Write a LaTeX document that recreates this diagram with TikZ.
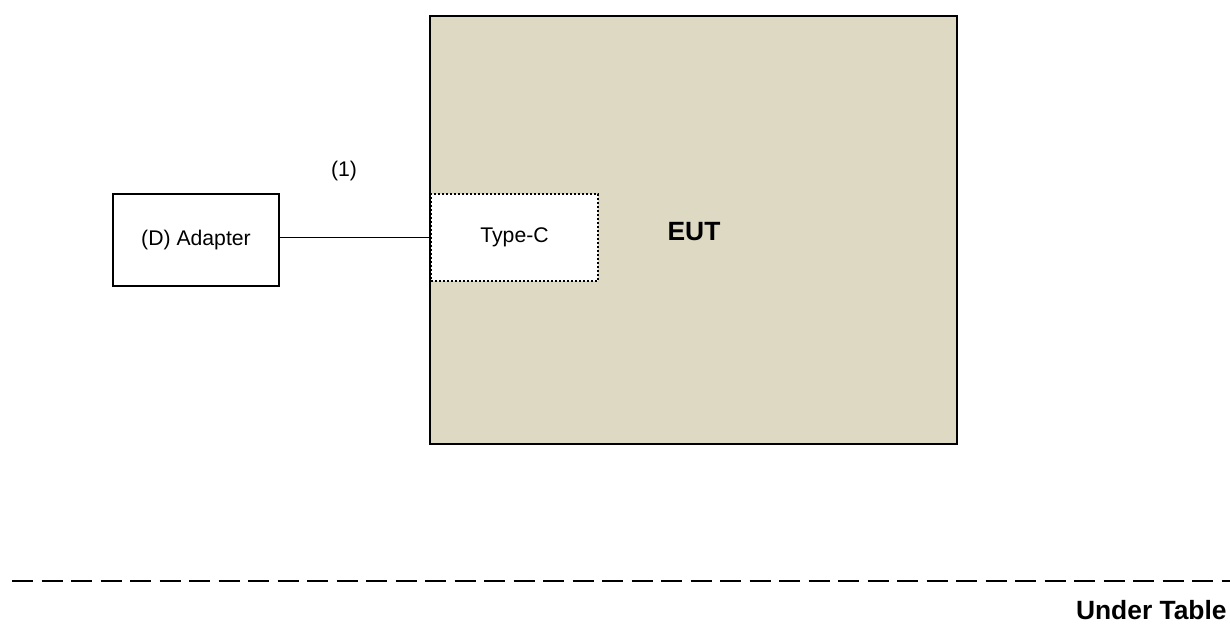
\documentclass[tikz,border=0pt]{standalone}
\usepackage{fontspec}
\setmainfont{Liberation Sans}
\usepackage{xcolor}
\usepackage{tikz}
\usetikzlibrary{calc,positioning}
\definecolor{eutfill}{HTML}{DDD9C3}
\definecolor{ink}{HTML}{000000}
\tikzset{
  eutbox/.style={draw=ink, fill=eutfill, line width=1pt, minimum width=263.5pt, minimum height=214pt, inner sep=0pt},
  portbox/.style={draw=ink, fill=white, line width=1pt, dash pattern=on 1pt off 1pt, minimum width=83.5pt, minimum height=43.5pt, inner sep=0pt},
  devbox/.style={draw=ink, line width=0.75pt, minimum width=83pt, minimum height=46pt, inner sep=0pt},
  cable/.style={draw=ink, line width=0.7pt},
  sep/.style={draw=ink, line width=1pt, dash pattern=on 10.5pt off 4.25pt},
  lab/.style={text=ink, font=\fontsize{10.6}{12}\selectfont},
  labb/.style={text=ink, font=\fontsize{13.2}{15}\selectfont\bfseries},
}
\begin{document}
\begin{tikzpicture}[x=0.5pt, y=-0.5pt]
\useasboundingbox (0,0) rectangle (1230,626);
\node[eutbox, labb] (eut) at (693.5,230) {};
\node[labb] (eutlab) at (694,232) {EUT};
\node[portbox, lab] (typec) at (514.5,237.5) {Type-C};
\node[devbox, lab] (adapter) at (196,240) {(D) Adapter};
\draw[cable] (adapter.east |- typec.west) -- (typec.west);
\node[lab] (cablelab) at (344,171) {(1)};
% table line
\coordinate (sepL) at (12,581);
\coordinate (sepR) at (1230,581);
\draw[sep] (sepL) -- (sepR);
\node[labb, anchor=east, inner sep=0pt] (table) at (1227,610) {Under Table};
\end{tikzpicture}
\end{document}
